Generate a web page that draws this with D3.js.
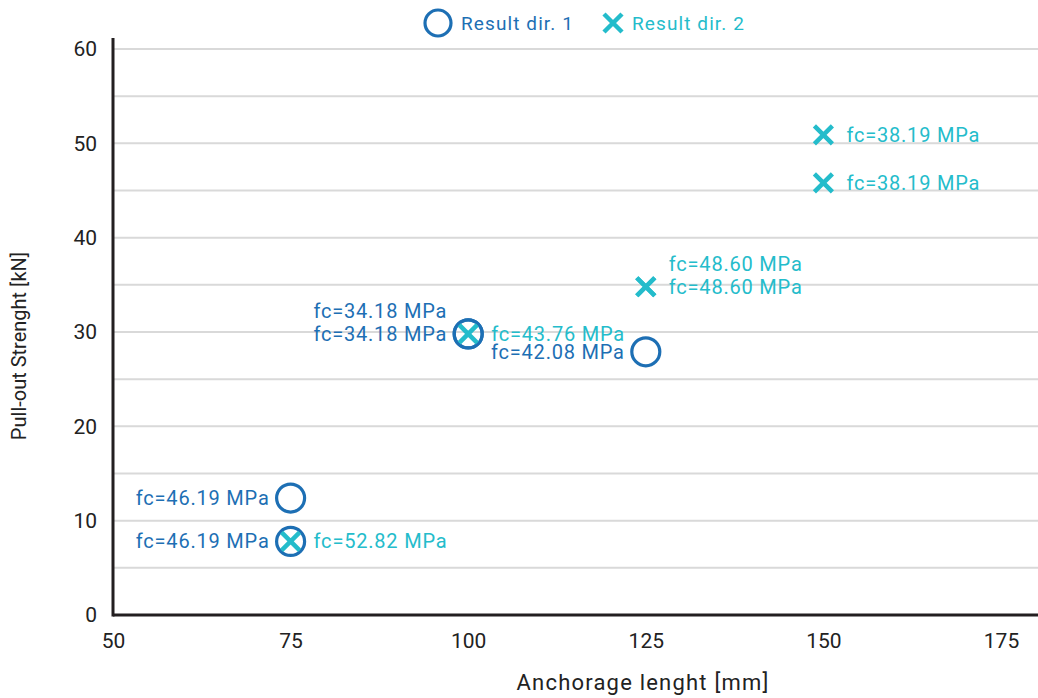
<!DOCTYPE html>
<html>
<head>
<meta charset="utf-8">
<script src="https://cdn.jsdelivr.net/npm/d3@7"></script>
<style>
  body { margin: 0; background: #fff; }
  text { font-family: Roboto, "Noto Sans", sans-serif; }
</style>
</head>
<body>
<div id="chart"></div>
<script>
// ---------------------------------------------------------------
// données
// ---------------------------------------------------------------
var dir1X  = [75, 75, 100, 100, 125];
var dir1Y  = [12.4, 7.8, 29.8, 29.8, 27.9];
var dir1Fc = ["46.19", "46.19", "34.18", "34.18", "42.08"];

var dir2X  = [75, 100, 125, 125, 150, 150];
var dir2Y  = [7.8, 29.8, 34.8, 34.8, 50.9, 45.8];
var dir2Fc = ["52.82", "43.76", "48.60", "48.60", "38.19", "38.19"];

var xTicks = [50, 75, 100, 125, 150, 175];
var yTicks = [0, 10, 20, 30, 40, 50, 60];
var yGrid  = [5, 10, 15, 20, 25, 30, 35, 40, 45, 50, 55, 60];

var bleuFonce = "#1d6fb4", cyan = "#24bccb";

// ---------------------------------------------------------------
// svg + échelles
// ---------------------------------------------------------------
var largeur = 1038, hauteur = 698;
var svg = d3.select("#chart").append("svg")
  .attr("width", largeur)
  .attr("height", hauteur);

var x = d3.scaleLinear().domain([50, 175]).range([113, 1001]);
var y = d3.scaleLinear().domain([0, 60]).range([615, 49]);

// grille
svg.selectAll(".grille")
  .data(yGrid)
  .enter().append("line")
  .attr("class", "grille")
  .attr("x1", x(50)).attr("x2", largeur)
  .attr("y1", function(d){ return y(d); })
  .attr("y2", function(d){ return y(d); })
  .attr("stroke", "#d9d9d9")
  .attr("stroke-width", 2);

// axes
var axeX = svg.append("g")
  .attr("transform", "translate(0," + y(0) + ")")
  .call(d3.axisBottom(x).tickValues(xTicks).tickSize(0).tickPadding(18));
axeX.select(".domain").remove();
axeX.selectAll("text").attr("font-size", "21px").attr("fill", "#222")
  .attr("font-family", "'Liberation Sans', Arial, sans-serif");

var axeY = svg.append("g")
  .attr("transform", "translate(" + x(50) + ",0)")
  .call(d3.axisLeft(y).tickValues(yTicks).tickSize(0).tickPadding(16));
axeY.select(".domain").remove();
axeY.selectAll("text").attr("font-size", "21px").attr("fill", "#222")
  .attr("font-family", "'Liberation Sans', Arial, sans-serif");

svg.append("line")
  .attr("x1", x(50)).attr("x2", largeur)
  .attr("y1", y(0)).attr("y2", y(0))
  .attr("stroke", "#231f20").attr("stroke-width", 3);
svg.append("line")
  .attr("x1", x(50)).attr("x2", x(50))
  .attr("y1", 38).attr("y2", y(0) + 1.5)
  .attr("stroke", "#231f20").attr("stroke-width", 3);

// titres des axes
svg.append("text")
  .attr("x", 643).attr("y", 690)
  .attr("text-anchor", "middle")
  .attr("font-size", "22px").attr("letter-spacing", "1.2px").attr("fill", "#222")
  .text("Anchorage lenght [mm]");
svg.append("text")
  .attr("transform", "translate(26,346) rotate(-90)")
  .attr("text-anchor", "middle")
  .attr("font-size", "20px").attr("fill", "#222")
  .text("Pull-out Strenght [kN]");

// ---------------------------------------------------------------
// marqueurs
// ---------------------------------------------------------------
function croix(g, cx, cy, t, couleur){
  g.append("path")
    .attr("d", "M" + (cx - t) + "," + (cy - t) + "L" + (cx + t) + "," + (cy + t) +
               "M" + (cx - t) + "," + (cy + t) + "L" + (cx + t) + "," + (cy - t))
    .attr("stroke", couleur).attr("stroke-width", 4.5).attr("fill", "none");
}

var pts1 = dir1X.map(function(v, i){ return {x: v, y: dir1Y[i], fc: dir1Fc[i]}; });
var pts2 = dir2X.map(function(v, i){ return {x: v, y: dir2Y[i], fc: dir2Fc[i]}; });

svg.selectAll(".rond")
  .data(pts1)
  .enter().append("circle")
  .attr("class", "rond")
  .attr("cx", function(d){ return x(d.x); })
  .attr("cy", function(d){ return y(d.y); })
  .attr("r", 14)
  .attr("fill", "none")
  .attr("stroke", bleuFonce)
  .attr("stroke-width", 3.2);

var gCroix = svg.append("g");
pts2.forEach(function(d){ croix(gCroix, x(d.x), y(d.y), 9, cyan); });

// étiquettes : les doublons sont remontés d'une ligne
function etiquettes(pts, couleur, dx, ancre){
  var deja = {};
  pts.forEach(function(d){
    var cle = d.x + "_" + d.y;
    var n = deja[cle] || 0;
    deja[cle] = n + 1;
    svg.append("text")
      .attr("x", x(d.x) + dx)
      .attr("y", y(d.y) - n * 23)
      .attr("dy", "0.35em")
      .attr("text-anchor", ancre)
      .attr("font-size", "20px")
      .attr("letter-spacing", "0.8px")
      .attr("fill", couleur)
      .text("fc=" + d.fc + " MPa");
  });
}
etiquettes(pts1, bleuFonce, -21, "end");
etiquettes(pts2, cyan, 23, "start");

// ---------------------------------------------------------------
// légende
// ---------------------------------------------------------------
svg.append("circle")
  .attr("cx", 438).attr("cy", 23).attr("r", 13)
  .attr("fill", "none").attr("stroke", bleuFonce).attr("stroke-width", 3.2);
svg.append("text")
  .attr("x", 461).attr("y", 23).attr("dy", "0.35em")
  .attr("font-size", "19px").attr("letter-spacing", "1.1px").attr("fill", bleuFonce)
  .text("Result dir. 1");
croix(svg, 613, 23, 9, cyan);
svg.append("text")
  .attr("x", 632).attr("y", 23).attr("dy", "0.35em")
  .attr("font-size", "19px").attr("letter-spacing", "1.1px").attr("fill", cyan)
  .text("Result dir. 2");
</script>
</body>
</html>
